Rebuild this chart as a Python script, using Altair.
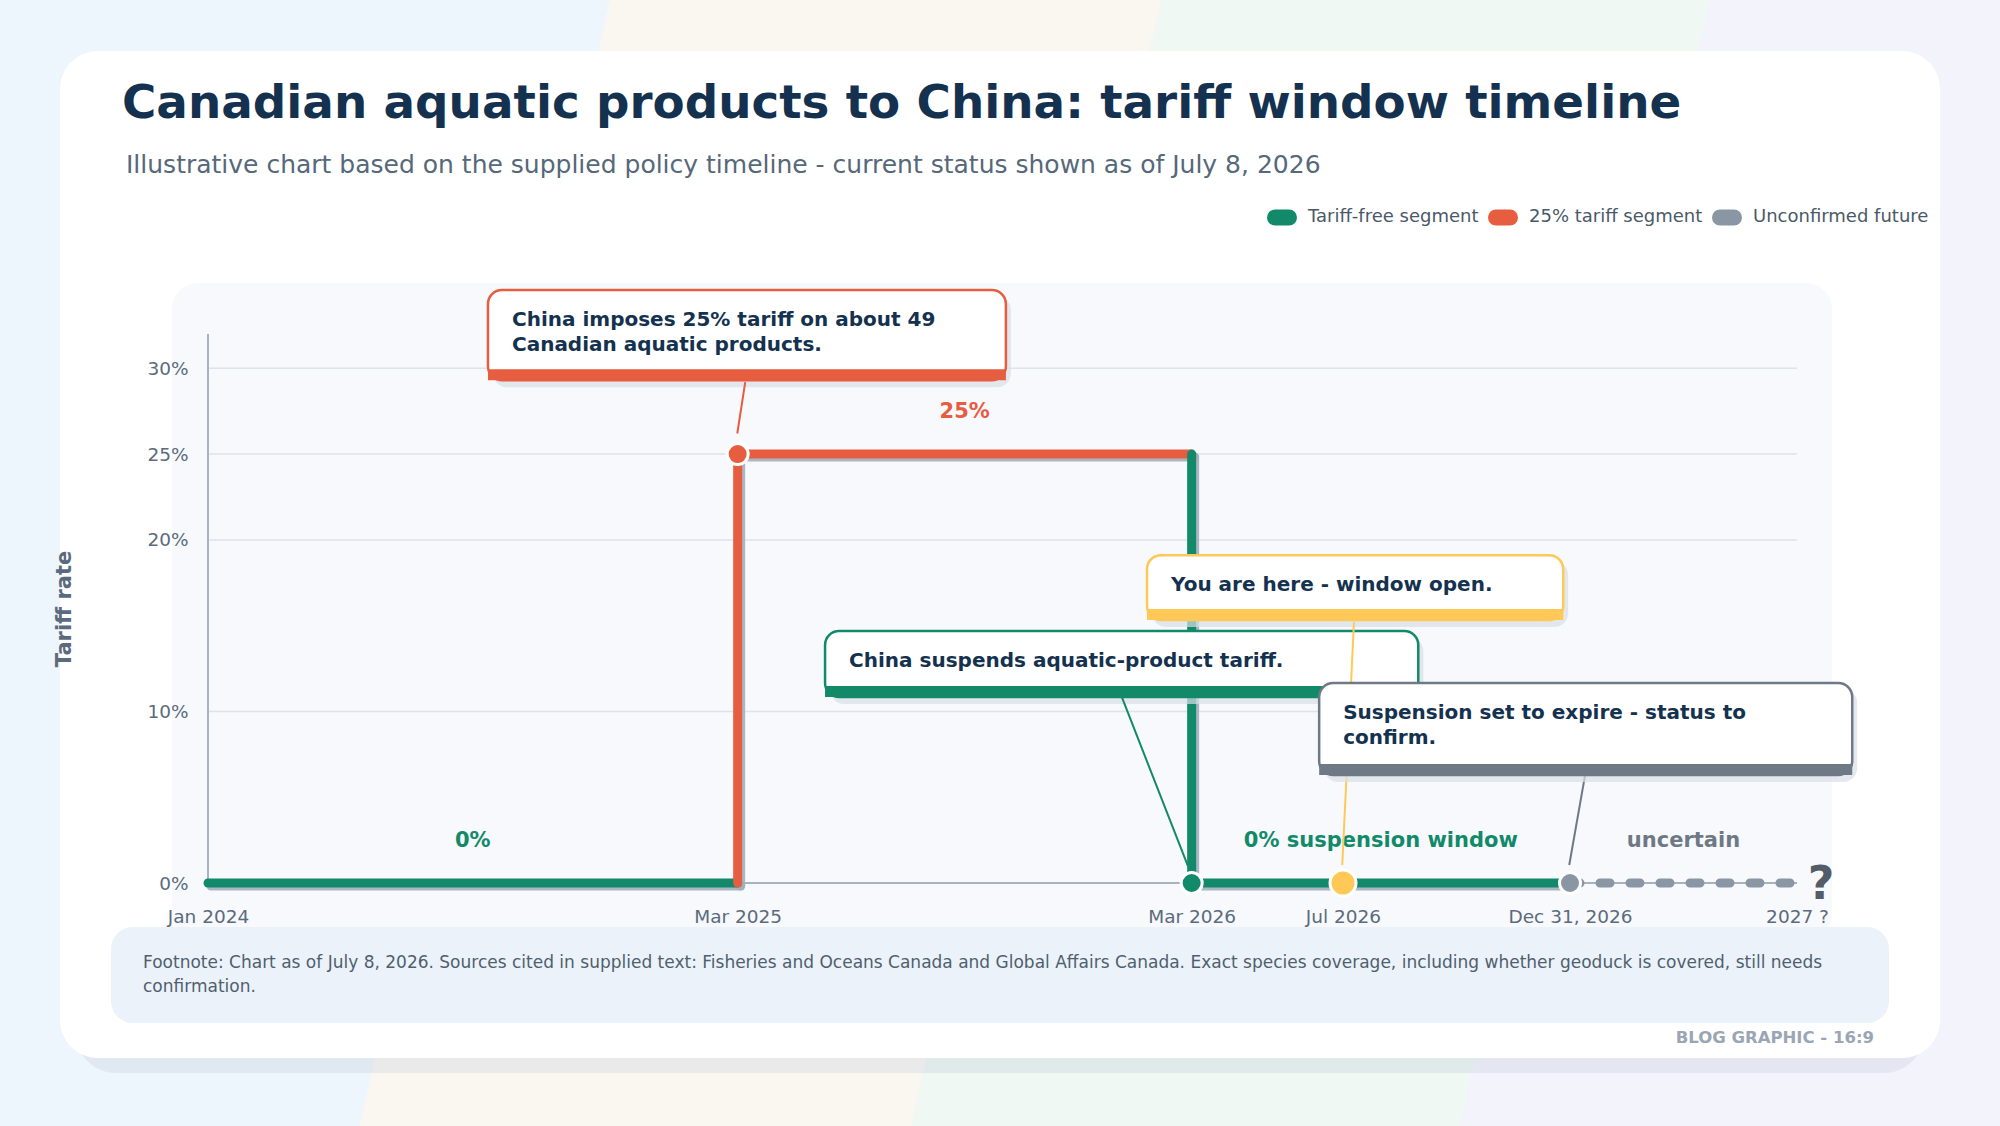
import altair as alt
import pandas as pd

# ---------------- data ----------------
categories = ["Tariff-free segment", "25% tariff segment", "Unconfirmed future"]

seg_id = [1, 1, 2, 2, 2, 3, 3, 3, 4, 4]
seg_month = [0, 14, 14, 14, 26, 26, 26, 36, 36, 42]
seg_rate = [0, 0, 0, 25, 25, 25, 0, 0, 0, 0]
seg_cat = ["Tariff-free segment"] * 2 + ["25% tariff segment"] * 3 + ["Tariff-free segment"] * 3 + ["Unconfirmed future"] * 2

event_month = [14, 26, 30, 36]
event_rate = [25, 0, 0, 0]
event_kind = ["tariff", "free", "now", "future"]

label_text = ["0%", "25%", "0% suspension window", "uncertain"]
label_month = [7.0, 20.0, 31.0, 39.0]
label_rate = [2.45, 27.45, 2.45, 2.45]
label_kind = ["free", "tariff", "free", "futuretext"]

qmark_month = [42.64]
qmark_rate = [0]

note_text = [
    "China imposes 25% tariff on about 49\nCanadian aquatic products.",
    "China suspends aquatic-product tariff.",
    "You are here - window open.",
    "Suspension set to expire - status to\nconfirm.",
]
note_kind = ["tariff", "free", "now", "future"]
note_month0 = [7.40, 16.31, 24.82, 29.37]
note_month1 = [21.09, 31.99, 35.82, 43.46]
note_top = [34.56, 14.69, 19.11, 11.66]
note_bottom = [29.31, 10.84, 15.33, 6.29]
link_month0 = [14.20, 24.16, 30.29, 36.40]
link_rate0 = [29.2, 10.8, 15.2, 6.3]
link_month1 = [13.99, 25.9, 29.98, 35.98]
link_rate1 = [26.2, 1.0, 1.05, 1.05]

tick_months = [0, 14, 26, 30, 36, 42]
tick_labels = ["Jan 2024", "Mar 2025", "Mar 2026", "Jul 2026", "Dec 31, 2026", "2027 ?"]
rate_ticks = [0, 10, 20, 25, 30]
grid_rates = [10, 20, 25, 30]

TITLE = "Canadian aquatic products to China: tariff window timeline"
SUBTITLE = "Illustrative chart based on the supplied policy timeline - current status shown as of July 8, 2026"
FOOTNOTE = ("Footnote: Chart as of July 8, 2026. Sources cited in supplied text: Fisheries and Oceans Canada and "
            "Global Affairs Canada. Exact species coverage, including whether geoduck is covered, still needs\nconfirmation.")
BADGE = "BLOG GRAPHIC - 16:9"

# ---------------- styles ----------------
FONT = "DejaVu Sans"
NAVY = "#14324f"
AXIS_C = "#5b6b7d"
GREEN = "#128a6a"
ORANGE = "#e65d3f"
YELLOW = "#ffc857"
GRAY = "#8a96a3"
DGRAY = "#6f7986"
PALETTE = {"free": GREEN, "tariff": ORANGE, "now": YELLOW, "future": GRAY, "futuretext": DGRAY}
BOXCOL = {"free": GREEN, "tariff": ORANGE, "now": YELLOW, "future": DGRAY}
PSIZE = {"free": 441, "tariff": 441, "now": 676, "future": 441}

W, H = 1589, 549
X_MAX, Y_MAX = 42, 32
PPX = W / X_MAX
PPU = H / Y_MAX
OX, OY = 208, 334  # plot origin on the page

# ---------------- tables ----------------
seg_df = pd.DataFrame({"seg": seg_id, "month": seg_month, "rate": seg_rate,
                       "cat": seg_cat, "ord": list(range(len(seg_id)))})
ev_df = pd.DataFrame({"month": event_month, "rate": event_rate, "kind": event_kind})
ev_df["pcol"] = ev_df["kind"].map(PALETTE)
ev_df["psz"] = ev_df["kind"].map(PSIZE)
lb_df = pd.DataFrame({"txt": label_text, "month": label_month, "rate": label_rate, "kind": label_kind})
lb_df["tcol"] = lb_df["kind"].map(PALETTE)
q_df = pd.DataFrame({"month": qmark_month, "rate": qmark_rate, "txt": ["?"]})
box_df = pd.DataFrame({"txt": note_text, "kind": note_kind, "x0": note_month0, "x1": note_month1,
                       "top": note_top, "bot": note_bottom})
box_df["bcol"] = box_df["kind"].map(BOXCOL)
link_df = pd.DataFrame({"kind": note_kind, "m0": link_month0, "r0": link_rate0,
                        "m1": link_month1, "r1": link_rate1})
link_df["lcol"] = link_df["kind"].map(BOXCOL)
grid_df = pd.DataFrame({"g": grid_rates})
dom_df = pd.DataFrame({"d": [0]})

# ---------------- scales / axes ----------------
xscale = alt.Scale(domain=[0, X_MAX], nice=False, zero=False)
yscale = alt.Scale(domain=[0, Y_MAX], nice=False, zero=False)
xexpr = " : ".join(f"datum.value == {m} ? '{l}'" for m, l in zip(tick_months, tick_labels)) + " : ''"
xaxis = alt.Axis(values=tick_months, labelExpr=xexpr, title=None, grid=False, domain=False, ticks=False,
                 labelPadding=24, labelFontSize=18.5, labelColor=AXIS_C, labelFont=FONT,
                 labelFlush=False, labelOverlap=False, zindex=1)
yaxis = alt.Axis(values=rate_ticks, labelExpr="datum.value + '%'", title="Tariff rate", grid=False,
                 domain=False, ticks=False, labelPadding=20, labelFontSize=18.5, labelColor=AXIS_C,
                 labelFont=FONT, titleFontSize=21, titleFontWeight="bold", titleColor=AXIS_C,
                 titleFont=FONT, titlePadding=72, zindex=1)


def X(f):
    return alt.X(f, type="quantitative", scale=xscale, axis=xaxis)


def Y(f):
    return alt.Y(f, type="quantitative", scale=yscale, axis=yaxis)


one = alt.Data(values=[{"k": 1}])


def rect_px(x, x2, y, y2, **mk):
    return alt.Chart(one).mark_rect(**mk).encode(
        x=alt.value(x - OX), x2=alt.value(x2 - OX), y=alt.value(y - OY), y2=alt.value(y2 - OY))


def text_px(x, y, txt, **mk):
    return alt.Chart(one).mark_text(**mk).encode(
        x=alt.value(x - OX), y=alt.value(y - OY), text=alt.value(txt))


def band(top_left, top_right, color):
    c = (top_left + top_right) / 2
    slope = -250 / 1126
    yt, yb = -200, 1326
    w = (top_right - top_left) * 0.976
    return alt.Chart(one).mark_rule(strokeWidth=w, color=color, strokeCap="butt").encode(
        x=alt.value(c + slope * yt - OX), x2=alt.value(c + slope * yb - OX),
        y=alt.value(yt - OY), y2=alt.value(yb - OY))


layers = []
# page background bands
layers += [band(-600, 610, "#edf5fd"), band(610, 1161, "#faf7f0"),
           band(1161, 1710, "#eff8f3"), band(1710, 2900, "#f3f3fc")]
# card, panel, footnote box
layers.append(rect_px(76, 1924, 66, 1073, color="#c9d0dc", opacity=0.35, cornerRadius=40))
layers.append(rect_px(60, 1940, 51, 1058, color="#ffffff", cornerRadius=38))
layers.append(rect_px(172, 1832, 283, 940, color="#f7f9fc", cornerRadius=26))
layers.append(rect_px(111, 1889, 927, 1023, color="#ebf2fa", cornerRadius=22))

# gridlines and axis lines
layers.append(alt.Chart(grid_df).mark_rule(color="#dde3ea", strokeWidth=1.5).encode(y=Y("g")))
layers.append(alt.Chart(dom_df).mark_rule(color="#a7b3c1", strokeWidth=2).encode(y=Y("d")))
layers.append(alt.Chart(dom_df).mark_rule(color="#a7b3c1", strokeWidth=2).encode(x=X("d")))

# step line shadow
layers.append(
    alt.Chart(seg_df).transform_filter("datum.seg != 4").transform_calculate(
        sm=f"datum.month + {3 / PPX}", sr=f"datum.rate - {3 / PPU}"
    ).mark_line(strokeWidth=9, color="#a2aebc", strokeCap="round", opacity=0.9).encode(
        x=X("sm"), y=Y("sr"), detail="seg:N", order="ord:Q")
)
# step lines
cscale = alt.Scale(domain=categories, range=[GREEN, ORANGE, GRAY])
PILL = "M-0.636,-0.364L0.636,-0.364A0.364,0.364 0 0 1 0.636,0.364L-0.636,0.364A0.364,0.364 0 0 1 -0.636,-0.364Z"
legend = alt.Legend(orient="none", legendX=1267 - OX, legendY=202 - OY, direction="horizontal", title=None,
                    symbolType=PILL, symbolSize=484, symbolStrokeWidth=8, labelFontSize=18, labelFont=FONT,
                    labelColor="#4a5968", labelLimit=400, columnPadding=-3, labelOffset=11, padding=0)
layers.append(
    alt.Chart(seg_df).transform_filter("datum.seg != 4").mark_line(
        strokeWidth=9, strokeCap="round", strokeJoin="miter").encode(
        x=X("month"), y=Y("rate"), color=alt.Color("cat:N", scale=cscale, legend=legend),
        detail="seg:N", order="ord:Q")
)
layers.append(
    alt.Chart(seg_df).transform_filter("datum.seg == 4").mark_line(
        strokeWidth=9, strokeCap="round", strokeDash=[10, 20]).encode(
        x=X("month"), y=Y("rate"), color=alt.Color("cat:N", scale=cscale, legend=None),
        detail="seg:N", order="ord:Q")
)
# end question mark
layers.append(
    alt.Chart(q_df).mark_text(fontSize=46, fontWeight="bold", color="#535d69", baseline="middle",
                              align="center", dy=2).encode(x=X("month"), y=Y("rate"), text="txt:N")
)
# event points
layers.append(
    alt.Chart(ev_df).mark_circle(stroke="white", strokeWidth=3, opacity=1).encode(
        x=X("month"), y=Y("rate"), fill=alt.Fill("pcol:N", scale=None), size=alt.Size("psz:Q", scale=None))
)
# segment labels
layers.append(
    alt.Chart(lb_df).mark_text(fontSize=21, fontWeight="bold", baseline="middle", align="center").encode(
        x=X("month"), y=Y("rate"), text="txt:N", fill=alt.Fill("tcol:N", scale=None))
)


def box_layers(df_filter):
    base = alt.Chart(box_df).transform_filter(df_filter)
    sh = base.transform_calculate(
        sx0=f"datum.x0 + {5 / PPX}", sx1=f"datum.x1 + {5 / PPX}",
        st=f"datum.top - {6 / PPU}", sb=f"datum.bot - {7 / PPU}"
    ).mark_rect(color="#d9e0e8", opacity=0.7, cornerRadius=14).encode(
        x=X("sx0"), x2="sx1", y=Y("st"), y2="sb")
    outline = base.mark_rect(fill="white", strokeWidth=2.5, cornerRadius=14).encode(
        x=X("x0"), x2="x1", y=Y("top"), y2="bot", stroke=alt.Stroke("bcol:N", scale=None))
    bar = base.transform_calculate(bt=f"datum.bot + {11 / PPU}").mark_rect().encode(
        x=X("x0"), x2="x1", y=Y("bt"), y2="bot", fill=alt.Fill("bcol:N", scale=None))
    txt = base.mark_text(align="left", baseline="top", dx=24, dy=20, fontSize=20, fontWeight="bold",
                         lineBreak="\n", lineHeight=25, color=NAVY).encode(
        x=X("x0"), y=Y("top"), text="txt:N")
    return [sh, outline, bar, txt]


layers += box_layers("datum.kind != 'future'")
layers.append(
    alt.Chart(link_df).mark_rule(strokeWidth=2).encode(
        x=X("m0"), y=Y("r0"), x2="m1", y2="r1", stroke=alt.Stroke("lcol:N", scale=None))
)
layers += box_layers("datum.kind == 'future'")

# titles and notes
layers.append(text_px(122, 118, TITLE, align="left", baseline="alphabetic", fontSize=46.8,
                      fontWeight="bold", color=NAVY))
layers.append(text_px(126, 173, SUBTITLE, align="left", baseline="alphabetic", fontSize=25,
                      color="#56687a"))
layers.append(text_px(143, 968, FOOTNOTE, align="left", baseline="alphabetic", fontSize=17,
                      color="#505f6e", lineBreak="\n", lineHeight=24))
layers.append(text_px(1874, 1043, BADGE, align="right", baseline="alphabetic", fontSize=16.5,
                      fontWeight="bold", color="#9aa6b4"))

chart = alt.layer(*layers).properties(
    width=W, height=H,
    autosize=alt.AutoSizeParams(type="none"),
    padding={"left": OX, "top": OY, "right": 2000 - OX - W, "bottom": 1126 - OY - H},
    background="#f3f6fb",
).configure(font=FONT).configure_view(strokeWidth=0)

chart.save("out.html", embed_options={"renderer": "svg", "actions": False})
